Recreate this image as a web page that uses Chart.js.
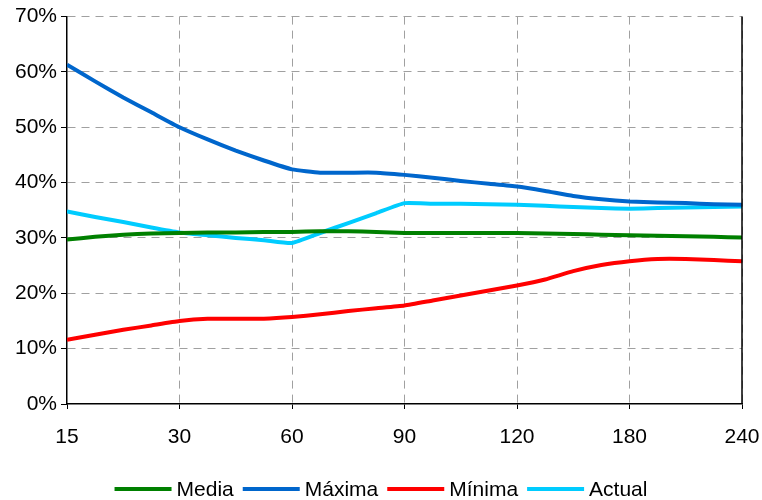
<!DOCTYPE html>
<html>
<head>
<meta charset="utf-8">
<script src="https://cdn.jsdelivr.net/npm/chart.js@4"></script>
<style>
  body { margin: 0; background: #fff; }
  #wrap { width: 762px; height: 500px; }
</style>
</head>
<body>
<div id="wrap"><canvas id="myChart" width="762" height="500"></canvas></div>
<script>
// plazos (días) en el eje x
const categories = ['15', '30', '60', '90', '120', '180', '240'];
// posiciones de los puntos, en cuartos de intervalo entre plazos
const positions = [
  0, 0.25, 0.5, 0.75, 1, 1.25, 1.5, 1.75, 2, 2.25, 2.5, 2.75, 3,
  3.25, 3.5, 3.75, 4, 4.25, 4.5, 4.75, 5, 5.25, 5.5, 5.75, 6
];
const media = [
  29.7, 30.2, 30.6, 30.8, 30.9, 31.0, 31.0, 31.1, 31.1, 31.2, 31.2, 31.1, 30.9,
  30.9, 30.9, 30.9, 30.9, 30.8, 30.7, 30.6, 30.5, 30.4, 30.3, 30.2, 30.1
];
const maxima = [
  61.3, 58.3, 55.4, 52.7, 50.0, 47.8, 45.8, 44.0, 42.4, 41.8, 41.8, 41.8, 41.4,
  40.9, 40.3, 39.8, 39.3, 38.5, 37.6, 37.0, 36.6, 36.4, 36.3, 36.1, 36.0
];
const minima = [
  11.6, 12.5, 13.4, 14.2, 15.0, 15.4, 15.4, 15.4, 15.7, 16.2, 16.8, 17.3, 17.8,
  18.7, 19.6, 20.5, 21.4, 22.5, 24.0, 25.1, 25.8, 26.2, 26.2, 26.0, 25.8
];
const actual = [
  34.8, 33.8, 32.9, 31.9, 31.0, 30.5, 30.0, 29.6, 29.1, 30.9, 32.7, 34.5, 36.3,
  36.2, 36.2, 36.1, 36.0, 35.8, 35.6, 35.4, 35.3, 35.4, 35.5, 35.6, 35.7
];
const yTicks = [0, 10, 20, 30, 40, 50, 60, 70];

const toPoints = (vals) => vals.map((v, i) => ({ x: positions[i], y: v }));

const mkSet = (label, vals, color) => ({
  label: label,
  data: toPoints(vals),
  borderColor: color,
  backgroundColor: color,
  borderWidth: 4,
  pointRadius: 0,
  tension: 0.15,
  fill: false
});

const fontFamily = "'Liberation Sans', Arial, sans-serif";
const font = { family: fontFamily, size: 21 };

// borde derecho del área de trazado
const rightBorder = {
  id: 'rightBorder',
  afterDraw(chart) {
    const a = chart.chartArea;
    const c = chart.ctx;
    c.save();
    c.strokeStyle = '#000';
    c.lineWidth = 1.5;
    c.beginPath();
    c.moveTo(a.right, a.top);
    c.lineTo(a.right, a.bottom);
    c.stroke();
    c.restore();
  }
};

// leyenda abajo: segmento de línea + texto
const bottomLegend = {
  id: 'bottomLegend',
  afterDraw(chart) {
    const c = chart.ctx;
    const sets = chart.data.datasets;
    const lineW = 57, gapText = 5, gapItem = 9, y = 489;
    c.save();
    c.font = font.size + 'px ' + fontFamily;
    c.textBaseline = 'middle';
    c.textAlign = 'left';
    let total = 0;
    sets.forEach((s, i) => {
      total += lineW + gapText + c.measureText(s.label).width + (i < sets.length - 1 ? gapItem : 0);
    });
    let x = (chart.width - total) / 2;
    sets.forEach((s) => {
      c.strokeStyle = s.borderColor;
      c.lineWidth = 4;
      c.beginPath();
      c.moveTo(x, y);
      c.lineTo(x + lineW, y);
      c.stroke();
      x += lineW + gapText;
      c.fillStyle = '#000';
      c.fillText(s.label, x, y + 1);
      x += c.measureText(s.label).width + gapItem;
    });
    c.restore();
  }
};

const ctx = document.getElementById('myChart').getContext('2d');
new Chart(ctx, {
  type: 'line',
  data: {
    datasets: [
      mkSet('Media', media, '#008000'),
      mkSet('Máxima', maxima, '#0066CC'),
      mkSet('Mínima', minima, '#FF0000'),
      mkSet('Actual', actual, '#00CCFF')
    ]
  },
  options: {
    responsive: false,
    animation: false,
    layout: { padding: { top: 14, right: 20, left: 0, bottom: 0 } },
    plugins: {
      tooltip: { enabled: false },
      legend: { display: false }
    },
    scales: {
      x: {
        type: 'linear',
        min: 0,
        max: 6,
        afterBuildTicks: (axis) => { axis.ticks = categories.map((c, i) => ({ value: i })); },
        afterFit: (axis) => {
          axis.height = 96;
          axis.paddingLeft = 0;
          axis.paddingRight = 0;
        },
        ticks: {
          color: '#000',
          font: font,
          padding: 16,
          maxRotation: 0,
          callback: (v) => categories[v]
        },
        grid: {
          color: (c) => c.index === 0 ? 'rgba(0,0,0,0)' : '#a0a0a0',
          lineWidth: 1,
          tickLength: 5,
          tickColor: '#000'
        },
        border: { color: '#000', width: 1.5, dash: [8, 6] }
      },
      y: {
        min: 0,
        max: 70,
        afterBuildTicks: (axis) => { axis.ticks = yTicks.map((v) => ({ value: v })); },
        afterFit: (axis) => { axis.width = 67; },
        ticks: {
          color: '#000',
          font: font,
          padding: 4,
          callback: (v) => v + '%'
        },
        grid: {
          color: (c) => c.index === 0 ? 'rgba(0,0,0,0)' : '#a0a0a0',
          tickColor: '#000',
          tickLength: 6
        },
        border: { color: '#000', width: 1.5, dash: [8, 6] }
      }
    }
  },
  plugins: [rightBorder, bottomLegend]
});
</script>
</body>
</html>
